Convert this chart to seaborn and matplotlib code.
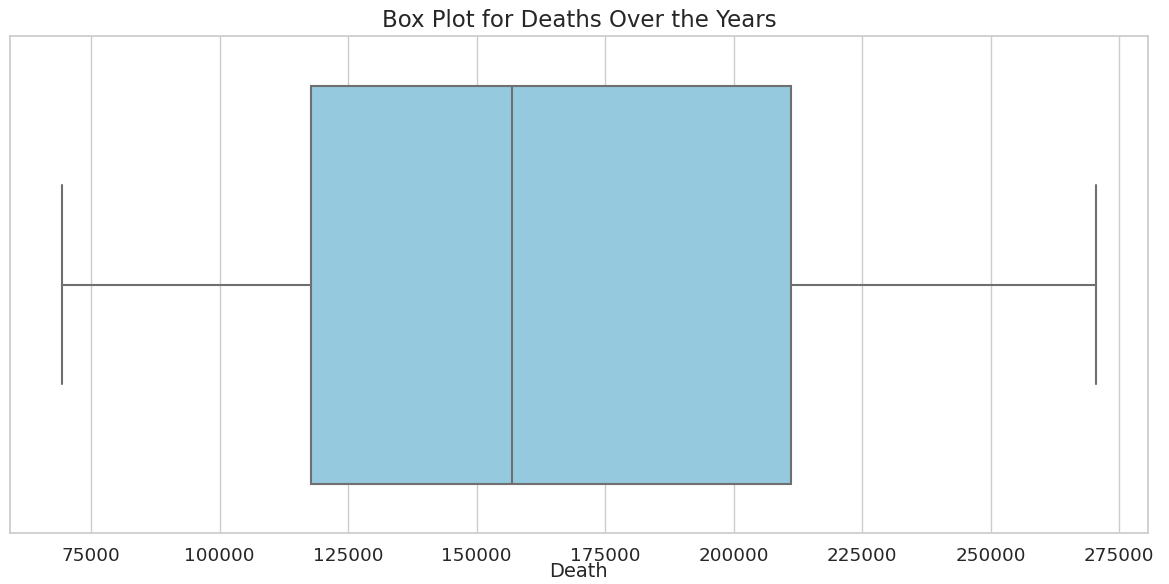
import matplotlib
matplotlib.use("Agg")
import matplotlib.pyplot as plt
import seaborn as sns
import pandas as pd

# Annual death counts (five summary values of the series)
deaths = [69300, 117800, 156800, 211200, 270500]
tick_values = [75000, 100000, 125000, 150000, 175000, 200000, 225000, 250000, 275000]
tick_labels = [str(v) for v in tick_values]

sns.set_theme(style="whitegrid")
plt.rcParams["font.family"] = ["DejaVu Sans"]

df = pd.DataFrame({"Death": deaths})

fig, ax = plt.subplots(figsize=(11.69, 5.84), dpi=100)
fig.subplots_adjust(left=0.0086, right=0.9818, top=0.9384, bottom=0.0868)

sns.boxplot(data=df, x="Death", color="skyblue", linewidth=1.5, ax=ax)

ax.set_xticks(tick_values)
ax.set_xticklabels(tick_labels)
ax.tick_params(axis="x", length=0, pad=9.5, labelsize=13.2, labelcolor="#262626")
ax.set_yticks([])
ax.set_ylabel("")
ax.set_xlabel("Death", fontsize=14, labelpad=-2, color="#262626")
ax.set_title("Box Plot for Deaths Over the Years", fontsize=16.5, pad=6.3, color="#262626")

for spine in ax.spines.values():
    spine.set_color("#cccccc")

fig.savefig("out.png", dpi=100)
